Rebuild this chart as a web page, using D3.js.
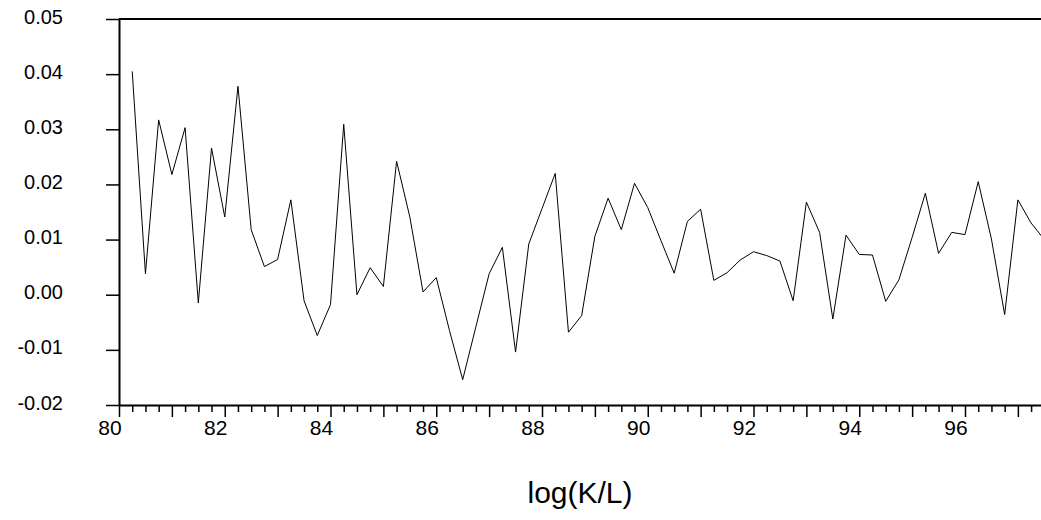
<!DOCTYPE html>
<html lang="en">
<head>
<meta charset="utf-8">
<title>log(K/L)</title>
<script src="https://cdn.jsdelivr.net/npm/d3@7"></script>
<style>
  body { margin: 0; background: #fff; }
  svg { display: block; font-family: "Liberation Sans", Arial, sans-serif; }
  .axis path, .axis line { stroke: #000; }
  .axis text { fill: #000; }
</style>
</head>
<body>
<script>
// quarterly observations, 1980Q2 .. 1997Q3
var periods = [
  "1980Q2","1980Q3","1980Q4","1981Q1","1981Q2","1981Q3","1981Q4","1982Q1",
  "1982Q2","1982Q3","1982Q4","1983Q1","1983Q2","1983Q3","1983Q4","1984Q1",
  "1984Q2","1984Q3","1984Q4","1985Q1","1985Q2","1985Q3","1985Q4","1986Q1",
  "1986Q2","1986Q3","1986Q4","1987Q1","1987Q2","1987Q3","1987Q4","1988Q1",
  "1988Q2","1988Q3","1988Q4","1989Q1","1989Q2","1989Q3","1989Q4","1990Q1",
  "1990Q2","1990Q3","1990Q4","1991Q1","1991Q2","1991Q3","1991Q4","1992Q1",
  "1992Q2","1992Q3","1992Q4","1993Q1","1993Q2","1993Q3","1993Q4","1994Q1",
  "1994Q2","1994Q3","1994Q4","1995Q1","1995Q2","1995Q3","1995Q4","1996Q1",
  "1996Q2","1996Q3","1996Q4","1997Q1","1997Q2","1997Q3"
];

var values = [
  0.0405, 0.0038, 0.0317, 0.0218, 0.0303, -0.0015, 0.0266, 0.0141,
  0.0378, 0.0118, 0.0051, 0.0064, 0.0172, -0.0011, -0.0074, -0.0018,
  0.0309, 0.0000, 0.0049, 0.0015, 0.0242, 0.0141, 0.0005, 0.0031,
  -0.0065, -0.0154, -0.0058, 0.0038, 0.0086, -0.0104, 0.0092, 0.0156,
  0.0220, -0.0068, -0.0038, 0.0106, 0.0175, 0.0118, 0.0202, 0.0158,
  0.0098, 0.0039, 0.0133, 0.0155, 0.0026, 0.0040, 0.0063, 0.0078,
  0.0071, 0.0061, -0.0011, 0.0168, 0.0113, -0.0044, 0.0108, 0.0073,
  0.0072, -0.0012, 0.0027, 0.0104, 0.0184, 0.0075, 0.0113, 0.0109,
  0.0205, 0.0101, -0.0036, 0.0172, 0.0130, 0.0100
];

var yTicks = [-0.02, -0.01, 0.00, 0.01, 0.02, 0.03, 0.04, 0.05];
var yTickLabels = ["-0.02", "-0.01", "0.00", "0.01", "0.02", "0.03", "0.04", "0.05"];
var xYears = [80, 81, 82, 83, 84, 85, 86, 87, 88, 89, 90, 91, 92, 93, 94, 95, 96, 97];
var xTickLabels = ["80", "", "82", "", "84", "", "86", "", "88", "", "90", "", "92", "", "94", "", "96", ""];
var xTitle = "log(K/L)";

var width = 1041, height = 520;
var plotLeft = 119, plotTop = 19, plotBottom = 405;
var pxPerYear = 52.875;

// "1985Q3" -> 85.5 (start of quarter)
function periodToX(p) {
  return (+p.slice(0, 4) - 1900) + (+p.slice(5) - 1) / 4;
}

var x = d3.scaleLinear().domain([80, 97.5]).range([plotLeft, plotLeft + 17.5 * pxPerYear]);
var y = d3.scaleLinear().domain([-0.02, 0.05]).range([plotBottom, plotTop]);

var svg = d3.select("body").append("svg")
  .attr("width", width)
  .attr("height", height);

// quarter minor ticks
var quarters = [];
xYears.forEach(function(yr) { [0.25, 0.5, 0.75].forEach(function(q) { quarters.push(yr + q); }); });

svg.append("g").attr("class", "axis")
  .attr("transform", "translate(0," + plotBottom + ")")
  .call(d3.axisBottom(x).tickValues(quarters).tickSize(7).tickFormat(""))
  .call(function(g) { g.select(".domain").remove(); })
  .selectAll("line").attr("stroke-width", 1.5);

// year ticks + labels
var xAxis = svg.append("g").attr("class", "axis")
  .attr("transform", "translate(0," + plotBottom + ")")
  .call(d3.axisBottom(x).tickValues(xYears).tickSize(12).tickSizeOuter(0)
    .tickFormat(function(d, i) { return xTickLabels[i]; }));
xAxis.select(".domain").attr("stroke-width", 2);
xAxis.selectAll("line").attr("stroke-width", 1.5);
xAxis.selectAll("text")
  .attr("font-size", 21)
  .attr("dx", -9.5)
  .attr("y", 30)
  .attr("dy", 0);

// y axis
var yAxis = svg.append("g").attr("class", "axis")
  .attr("transform", "translate(" + plotLeft + ",0)")
  .call(d3.axisLeft(y).tickValues(yTicks).tickSize(13).tickSizeOuter(0)
    .tickFormat(function(d, i) { return yTickLabels[i]; }));
yAxis.select(".domain").attr("stroke-width", 2);
yAxis.selectAll("line").attr("stroke-width", 1.5);
yAxis.selectAll("text")
  .attr("font-size", 20)
  .attr("x", -56)
  .attr("dy", "0.2em");

// top frame line
svg.append("line")
  .attr("x1", plotLeft).attr("x2", width)
  .attr("y1", plotTop).attr("y2", plotTop)
  .attr("stroke", "#000").attr("stroke-width", 2);

// series
var line = d3.line()
  .x(function(d) { return x(periodToX(d.p)); })
  .y(function(d) { return y(d.v); });

svg.append("path")
  .datum(periods.map(function(p, i) { return { p: p, v: values[i] }; }))
  .attr("fill", "none")
  .attr("stroke", "#000")
  .attr("stroke-width", 1)
  .attr("d", line);

// title
svg.append("text")
  .attr("x", 580)
  .attr("y", 503)
  .attr("text-anchor", "middle")
  .attr("font-size", 30)
  .text(xTitle);
</script>
</body>
</html>
